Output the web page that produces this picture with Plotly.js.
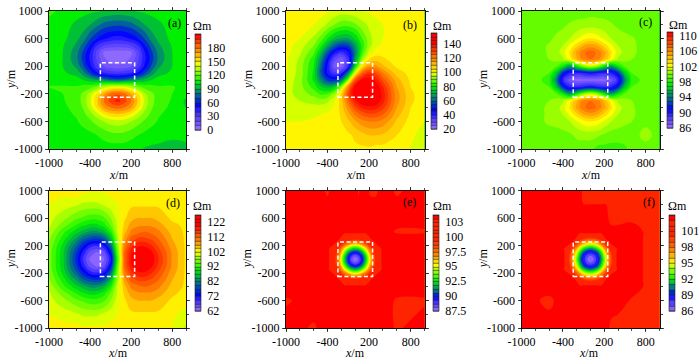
<!DOCTYPE html>
<html><head><meta charset="utf-8">
<script src="https://cdn.plot.ly/plotly-3.0.1.min.js"></script>
<style>html,body{margin:0;padding:0;background:#fff}#c{width:698px;height:364px}</style></head>
<body><div id="c"></div>
<script>
const xWide=[-1000,-800,-600,-500,-400,-300,-200,-100,0,100,200,300,400,500,600,800,1000];
const xFine=[-1000,-600,-400,-300,-220,-150,-100,-50,0,50,100,150,220,300,400,600,1000];
const xTicks=[-1000,-400,200,800];
const yTicks=[-1000,-600,-200,200,600,1000];
const zA=[
[103,104,104,104,104,105,105,105,105,105,104,102,99,98,98,98,99],
[104,104,105,106,107,110,113,116,117,116,113,110,107,105,103,101,101],
[105,106,109,113,118,124,130,134,136,134,130,124,118,113,109,105,103],
[106,107,111,117,125,136,148,156,158,156,148,136,125,117,111,106,103],
[107,108,113,121,135,152,170,180,184,180,170,152,133,121,113,108,100],
[107,109,115,123,138,158,180,195,204,195,180,158,136,123,115,109,98],
[109,110,115,122,134,150,168,183,188,183,168,150,132,122,115,110,104],
[110,111,111,114,116,123,134,142,145,142,134,123,116,114,111,111,106],
[105,105,104,100,95,90,84,78,75,78,84,90,95,100,104,105,105],
[104,102,96,85,69,52,42,37,35,37,42,52,69,85,96,102,104],
[104,100,88,72,53,33,20,14,12,14,20,33,53,72,88,100,104],
[104,100,83,66,48,28,12,6,4,6,12,28,48,66,83,100,104],
[104,100,84,68,50,27,8,5,4,5,8,27,50,68,84,100,104],
[104,101,88,76,60,40,30,26,25,26,30,40,60,76,88,101,104],
[105,103,93,85,71,60,52,47,45,47,52,60,71,85,93,103,105],
[106,104,98,95,90,83,76,73,72,73,76,83,90,95,98,104,105],
[113,107,104,103,102,101,99,98,97,98,99,101,102,103,104,105,105]];
const zB=[
[101,102,102,102,102,103,103,103,104,104,104,103,103,102,102,100,96],
[101,102,102,102,102,103,103,104,106,108,110,110,109,107,105,101,98],
[100,100,101,102,102,103,105,109,114,118,120,120,118,114,109,103,100],
[98,98,99,100,101,102,106,113,121,126,129,128,125,119,112,104,101],
[96,96,97,97,98,101,107,118,129,136,138,137,132,124,115,105,101],
[97,95,93,92,94,99,108,124,138,146,148,145,137,127,117,106,102],
[97,93,88,84,85,92,106,130,146,151,152,147,138,127,117,106,102],
[98,92,83,76,72,76,92,120,144,150,150,145,135,125,115,105,102],
[99,92,79,66,55,52,62,92,128,142,144,138,128,120,112,104,102],
[100,93,79,60,44,36,40,65,101,125,134,129,120,113,108,103,102],
[101,93,80,62,44,27,24,40,78,105,116,116,111,107,104,103,102],
[101,94,82,67,48,32,26,38,68,92,105,108,106,104,103,102,102],
[102,96,86,74,58,44,38,44,64,84,97,102,103,103,103,102,102],
[102,98,90,82,70,60,54,56,68,82,93,99,101,102,102,102,102],
[102,100,94,88,80,73,70,70,76,85,93,98,100,101,102,102,102],
[102,102,100,98,94,90,87,87,89,93,96,99,100,101,102,102,102],
[102,103,103,102,101,99,98,98,99,100,101,101,102,102,102,103,102]];
const zC=[
[99.5,99.5,99.5,99.5,99.5,99.5,99.5,99.5,99.5,98.6,98.6,98.6,98.6,98.8,99.5,99.5,99.5],
[99.5,99.5,99.5,99.6,99.7,99.8,100.2,100.3,100.3,100.2,99.8,99.5,99.5,99.5,99.5,100.4,99.5],
[99.5,99.6,100.2,100.3,100.5,101,101.8,102.6,103,102.6,101.8,101,100.5,100.2,100,99.7,99.5],
[99.5,99.6,100.2,100.5,101,102.2,103.6,105,105.5,105,103.6,102.2,101,100.5,100.1,99.7,99.5],
[99.5,99.6,100.2,100.6,101.4,103.2,105.4,106.8,107.6,106.8,105.4,103.2,101.4,100.6,100.1,99.6,99.5],
[99.5,99.5,100,100.4,100.8,102.5,104.8,106.5,107,106.5,104.8,102.5,100.8,100.4,100,99.5,99.5],
[99.5,99.5,99.5,99.2,97.5,95,97.5,100.2,101.5,100.2,97.5,95,97.5,99.2,99.5,99.5,99.5],
[99.5,99.5,99,96.5,92,90,89.5,90,90.5,90,89.5,90,92,96.5,99,99.5,99.5],
[99.5,99.4,98.5,94.5,89.5,87.5,86.6,86.6,86.6,86.6,86.6,87.5,89.5,94.5,98.5,99.4,99.5],
[99.5,99.5,99,96.5,92,90,89.5,90,90.5,90,89.5,90,92,96.5,99,99.5,99.5],
[99.5,99.5,99.5,99.2,97.5,95,97.5,100.2,101.5,100.2,97.5,95,97.5,99.2,99.5,99.5,99.5],
[99.5,99.5,100,100.4,100.8,102.5,104.8,106.5,107,106.5,104.8,102.5,100.8,100.4,100,99.5,99.5],
[99.5,99.6,100.1,100.6,101.4,103.2,105.4,106.8,107.6,106.8,105.4,103.2,101.4,100.6,100.2,99.6,99.5],
[99.5,99.6,100.1,100.5,101,102.2,103.6,105,105.5,105,103.6,102.2,101,100.5,100.2,99.6,99.5],
[99.5,99.6,99.8,100.2,100.5,101,101.8,102.6,103,102.6,101.8,101,100.5,100.3,100.1,99.6,99.5],
[99.5,99.5,99.5,99.6,99.8,100.1,100.3,100.4,100.5,100.4,100.3,100.1,99.8,99.6,99.5,99.5,99.5],
[99.5,99.5,99.5,99.5,99.5,99.5,99.5,99.5,99.6,99.6,99.6,99.5,99.5,99.5,99.5,99.5,99.5]];
const zD=[
[103,103,103,102.5,102.5,102.5,102.5,103,103,103,103,103,103,103,103,102,99],
[102,101,100,99,99,99,100,101,102,103,104,104,104,104,104,102.5,101],
[100.5,98,95,94,93,93,94,97,101,104,106,107,107,107,106,104,103],
[100,96,92,90,89,89,91,95,100,105,108,109,109,109,108,105,103.5],
[99,93,88,86,84,84,86,91,100,106,110,111,112,111,110,106,104],
[97.5,91,84,80,78,77,79,86,98,108,113,115,115,114,112,107,104],
[96.5,89,80,75,71,70,72,80,97,110,116,119,119,117,114,108,104],
[96,88,77,71,66,64,66,74,95,112,119,122,122,120,116,109,104],
[96,88,76,69,64,62.5,64,71,93,112,120,124,124,121,117,109,104],
[96,88,77,71,66,64,66,74,95,112,119,122,122,120,116,109,104],
[96.5,89,80,75,71,70,72,80,97,110,116,119,119,117,114,108,104],
[97.5,91,84,80,78,77,79,86,98,108,113,115,115,114,112,107,104],
[99,93,88,86,84,84,86,91,100,106,110,111,112,111,110,106,104],
[100,96,92,90,89,89,91,95,100,105,108,109,109,109,108,105,104],
[100.5,98,95,94,93,93,94,97,101,104,106,107,107,107,106,104,103.5],
[102,101,100,99,99,99,100,101,102,103,104,104,104,104,104,103,103],
[103,103,104,103,102.5,102.5,102.5,103,103,103,103,103,103,103,103,103,102.5]];
const zE=[
[103.6,103.0,103.6,103.6,103.6,103.6,103.6,103.6,103.6,103.6,103.6,103.6,103.6,103.6,103.6,103.0,103.6],
[103.0,103.6,103.6,103.6,103.6,103.6,103.6,103.6,103.6,103.6,103.6,103.6,103.6,103.6,103.6,103.0,103.0],
[103.6,103.6,103.6,103.6,103.6,103.6,103.8,104,104,104,103.8,103.6,103.6,103.6,103.6,103.6,103.6],
[103.6,103.6,103.6,103.6,103.1,101.5,100.7,100.1,100,100.1,100.7,101.5,103.1,103.6,103.6,103.6,103.6],
[103.6,103.6,103.6,103.1,100.3,98.2,97.3,96.4,96,96.4,97.3,98.2,100.3,103.1,103.6,103.6,103.6],
[103.6,103.6,103.6,101.5,98.2,95.4,93.7,92.4,92,92.4,93.7,95.4,98.2,101.5,103.6,103.6,103.6],
[103.6,103.6,103.8,100.7,97.3,93.7,91.5,90.4,90,90.4,91.5,93.7,97.3,100.7,103.8,103.6,103.6],
[103.6,103.6,104,100.1,96.4,92.4,90.4,89,88.3,89,90.4,92.4,96.4,100.1,104,103.6,103.6],
[103.6,103.6,104,100,96,92,90,88.3,87.6,88.3,90,92,96,100,104,103.6,103.6],
[103.6,103.6,104,100.1,96.4,92.4,90.4,89,88.3,89,90.4,92.4,96.4,100.1,104,103.6,103.6],
[103.6,103.6,103.8,100.7,97.3,93.7,91.5,90.4,90,90.4,91.5,93.7,97.3,100.7,103.8,103.6,103.6],
[103.6,103.6,103.6,101.5,98.2,95.4,93.7,92.4,92,92.4,93.7,95.4,98.2,101.5,103.6,103.6,103.6],
[103.6,103.6,103.6,103.1,100.3,98.2,97.3,96.4,96,96.4,97.3,98.2,100.3,103.1,103.6,103.6,103.6],
[103.6,103.6,103.6,103.6,103.1,101.5,100.7,100.1,100,100.1,100.7,101.5,103.1,103.6,103.6,103.6,103.6],
[103.6,103.6,103.6,103.6,103.6,103.6,103.8,104,104,104,103.8,103.6,103.6,103.6,103.6,103.0,103.0],
[103.6,103.6,103.6,103.6,103.6,103.6,103.6,103.6,103.6,103.6,103.6,103.6,103.6,103.6,103.6,103.6,103.6],
[103.6,103.6,103.0,103.6,103.6,103.6,103.6,103.6,103.6,103.0,103.6,103.6,103.0,103.0,103.6,103.0,103.6]];
const zF=[
[103.4,103.4,103.4,103.4,103.4,103.4,103.4,103.4,103.4,103.4,103.4,103.4,103.4,102.8,102.6,102.5,102.4],
[103.4,102.8,103.4,103.4,103.4,103.4,103.4,103.4,103.4,103.4,103.4,103.4,103.4,103.4,103.4,102.9,102.4],
[103.4,103.4,103.4,103.4,103.4,103.4,103.8,104,104,104,103.8,103.4,103.4,103.4,103.4,103.4,102.4],
[103.4,103.4,103.4,103.4,103.05,101.0,100.2,99.6,99.5,99.6,100.2,101.0,103.05,103.4,103.4,103.4,102.4],
[103.4,103.4,103.4,103.05,100.0,97.5,96.0,95.0,94.6,95.0,96.0,97.5,100.0,103.05,103.4,103.4,102.4],
[103.4,103.4,103.4,101.0,97.5,94.0,92.0,91.0,90.5,91.0,92.0,94.0,97.5,101.0,103.4,103.4,102.4],
[103.4,103.4,103.8,100.2,96.0,92.0,90.0,89.0,88.6,89.0,90.0,92.0,96.0,100.2,103.8,103.4,102.4],
[103.4,103.4,104,99.6,95.0,91.0,89.0,87.6,87.0,87.6,89.0,91.0,95.0,99.6,104,103.4,102.4],
[103.4,103.4,104,99.5,94.6,90.5,88.6,87.0,86.2,87.0,88.6,90.5,94.6,99.5,104,103.4,102.4],
[103.4,103.4,104,99.6,95.0,91.0,89.0,87.6,87.0,87.6,89.0,91.0,95.0,99.6,104,103.4,102.4],
[103.4,103.4,103.8,100.2,96.0,92.0,90.0,89.0,88.6,89.0,90.0,92.0,96.0,100.2,103.8,103.4,102.4],
[103.4,103.4,103.4,101.0,97.5,94.0,92.0,91.0,90.5,91.0,92.0,94.0,97.5,101.0,103.4,103.4,102.4],
[103.4,103.4,103.4,103.05,100.0,97.5,96.0,95.0,94.6,95.0,96.0,97.5,100.0,103.05,103.4,103.4,102.4],
[103.4,103.4,103.4,103.4,103.05,101.0,100.2,99.6,99.5,99.6,100.2,101.0,103.05,103.4,103.4,103.4,102.4],
[103.4,103.4,103.4,103.4,103.4,103.4,103.8,104,104,104,103.8,103.4,103.4,103.4,103.4,103.4,102.4],
[103.4,103.4,103.4,103.4,103.4,103.4,103.4,103.4,103.4,103.4,103.4,103.4,103.4,102.6,102.6,102.8,102.4],
[103.4,103.4,103.4,103.4,103.4,103.4,102.6,102.6,102.6,102.6,102.6,102.6,102.6,102.6,102.6,102.5,102.4]];

const hues=['#9a70ff','#4a38ff','#0000ff','#007a80','#00f000','#80ff00','#ffff00','#ff8000','#ff0000'];
const huesRed=['#9a70ff','#4a38ff','#0000ff','#007a80','#00f000','#80ff00','#ffff00','#ff8000','#ff2400'];
const stopsA=[0,0.16,0.27,0.38,0.5,0.6,0.7,0.85,1];
const stopsB=[0,0.12,0.2,0.32,0.44,0.52,0.6,0.74,0.9];
const stopsC=[0,0.12,0.2,0.32,0.46,0.56,0.66,0.82,1];
const stopsD=[0,0.1,0.17,0.3,0.43,0.53,0.62,0.74,0.9];
const stopsE=[0,0.09,0.15,0.22,0.31,0.4,0.48,0.6,0.75];
const stopsF=[0,0.1,0.17,0.25,0.33,0.42,0.5,0.64,0.8];
function scale(st,h){const s=st.map((v,i)=>[v,h[i]]);if(h===huesRed){s.push([0.95,'#ff2400'],[0.956,'#ff0000'],[1,'#ff0000']);}else if(st[st.length-1]<1)s.push([1,h[h.length-1]]);return s;}
const font='"Liberation Serif",serif';
const W=698,H=364;
const panels=[
 {z:zA,x:xWide,cs:scale(stopsA,hues),tag:'(a)',l:[0,210,10],t:[0,30,60,90,120,150,180],tt:null,ax:[49,186,11,149],cb:[194.5,34,95.5],u:[203,26],yt:11,xt:[119,174.5],tp:[825,830]},
 {z:zB,x:xWide,cs:scale(stopsB,hues),tag:'(b)',l:[20,155,5],t:[20,40,60,80,100,120,140],tt:null,ax:[286,424.5,11,149],cb:[431,33,95.5],u:[443,26],yt:248,xt:[356,174.5],tp:[793,793]},
 {z:zC,x:xWide,cs:scale(stopsC,hues),tag:'(c)',l:[86,111,1],t:[86,90,94,98,102,106,110],tt:null,ax:[521.5,659.5,11,149],cb:[667,32,95.5],u:[678,25],yt:483,xt:[590.7,174.5],tp:[802,840]},
 {z:zD,x:xWide,cs:scale(stopsD,hues),tag:'(d)',l:[62,127,2.5],t:[62,72,82,92,102,112,122],tt:null,ax:[49,186,190.5,328],cb:[194.5,214.5,95.5],u:[203,206],yt:11,xt:[118,353],tp:[806,825]},
 {z:zE,x:xFine,cs:scale(stopsE,huesRed),tag:'(e)',l:[87.5,103.75,0.625],t:[87.5,90,92.5,95,97.5,100,102.5],tt:['87.5','90','92.5','95','97.5','100','103'],ax:[286,424.5,190.5,328],cb:[432.5,214.5,95.5],u:[443,206],yt:247,xt:[355,353],tp:[778,835]},
 {z:zF,x:xFine,cs:scale(stopsF,huesRed),tag:'(f)',l:[86,104,1],t:[86,89,92,95,98,101],tt:null,ax:[521.5,659.5,190.5,328],cb:[669,215,95.5],u:[677,206],yt:483,xt:[589,353],tp:[845,835]}
];
const data=[];const layout={width:W,height:H,margin:{l:0,r:0,t:0,b:0,autoexpand:false},paper_bgcolor:'#fff',plot_bgcolor:'#fff',showlegend:false,shapes:[],annotations:[],font:{family:font,size:12,color:'#000'}};
panels.forEach((p,i)=>{
 const n=i?String(i+1):'';const xa='x'+n,ya='y'+n;
 const base={type:'contour',x:p.x,y:p.x,z:p.z,xaxis:xa,yaxis:ya,zauto:false,zmin:p.l[0],zmax:p.l[1],colorscale:p.cs,hoverinfo:'skip',
   contours:{coloring:'fill',start:p.l[0],end:p.l[1],size:p.l[2],showlines:true}};
 data.push(Object.assign({},base,{line:{width:0.6,color:'#222',smoothing:1.3},showscale:true,
   colorbar:{x:p.cb[0]/W,xref:'paper',xanchor:'left',xpad:0,y:1-p.cb[1]/H,yref:'paper',yanchor:'top',ypad:0,len:p.cb[2],lenmode:'pixels',thickness:6,thicknessmode:'pixels',
     outlinecolor:'#222',outlinewidth:0.6,borderwidth:0,tickmode:'array',tickvals:p.t,ticktext:p.tt||p.t.map(String),ticks:'outside',ticklen:4,tickcolor:'rgba(0,0,0,0)',tickfont:{family:font,size:12,color:'#000'}}}));
 data.push(Object.assign({},base,{line:{width:0,smoothing:1.3},showscale:false}));
 const [x0,x1,y0,y1]=p.ax;
 const common={showgrid:false,zeroline:false,showline:true,linecolor:'#111',linewidth:1,mirror:'ticks',ticks:'outside',ticklen:3,tickwidth:0.8,tickcolor:'#222',range:[-1000,1000],
   tickmode:'array',tickfont:{family:font,size:12,color:'#000'}};
 const minor={tick0:-1000,dtick:200,ticks:'outside',ticklen:2,tickwidth:0.8,tickcolor:'#222',showgrid:false};
 layout['xaxis'+n]=Object.assign({},common,{anchor:ya,domain:[x0/W,x1/W],tickvals:xTicks,ticktext:xTicks.map(String),minor});
 layout['yaxis'+n]=Object.assign({},common,{anchor:xa,domain:[1-y1/H,1-y0/H],tickvals:yTicks,ticktext:yTicks.map(String),minor});
 layout.shapes.push({type:'rect',xref:xa,yref:ya,x0:-250,x1:250,y0:-250,y1:250,line:{color:'#fff',width:1.5,dash:'4px,2.5px'},fillcolor:'rgba(0,0,0,0)',layer:'above'});
 layout.annotations.push({xref:xa,yref:ya,x:p.tp[0],y:p.tp[1],text:p.tag,showarrow:false,font:{family:font,size:12,color:'#000'}});
 layout.annotations.push({xref:'paper',yref:'paper',x:p.u[0]/W,y:1-p.u[1]/H,xanchor:'center',yanchor:'middle',text:'Ωm',showarrow:false,font:{family:font,size:12,color:'#000'}});
 layout.annotations.push({xref:'paper',yref:'paper',x:p.yt/W,y:1-((y0+y1)/2-1)/H,xanchor:'center',yanchor:'middle',textangle:-90,text:'<i>y</i>/m',showarrow:false,font:{family:font,size:12,color:'#000'}});
 layout.annotations.push({xref:'paper',yref:'paper',x:p.xt[0]/W,y:1-p.xt[1]/H,xanchor:'center',yanchor:'middle',text:'<i>x</i>/m',showarrow:false,font:{family:font,size:12,color:'#000'}});
});
Plotly.newPlot('c',data,layout,{staticPlot:true,displayModeBar:false});
</script></body></html>
